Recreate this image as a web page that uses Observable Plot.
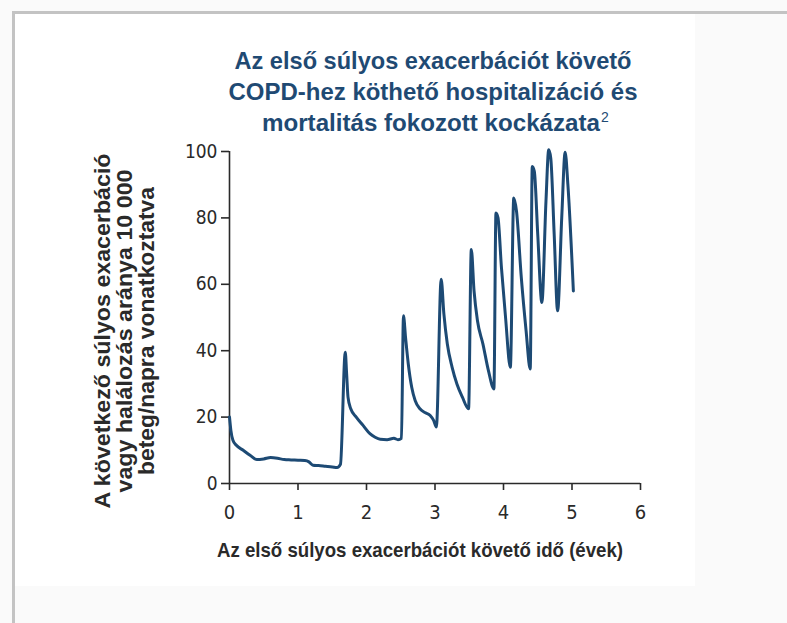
<!DOCTYPE html>
<html><head><meta charset="utf-8">
<script src="https://cdn.jsdelivr.net/npm/d3@7"></script>
<script src="https://cdn.jsdelivr.net/npm/@observablehq/plot@0.6"></script>
<style>
html,body{margin:0;padding:0;background:#fafafa;}
#wrap{position:relative;width:787px;height:623px;overflow:hidden;background:#fafafa;}
#frame{position:absolute;left:12px;top:11px;width:800px;height:700px;border-left:3px solid #c3c3c3;border-top:3px solid #c3c3c3;}
#panel{position:absolute;left:15px;top:14px;width:680px;height:572px;background:#fff;}
#chart{position:absolute;left:0;top:0;}
#labels{position:absolute;left:0;top:0;}
</style></head><body>
<div id="wrap"><div id="frame"></div><div id="panel"></div><div id="chart"></div><svg id="labels" width="787" height="623"></svg></div>
<script>
const years = [0.00,0.02,0.05,0.10,0.20,0.30,0.40,0.50,0.60,0.70,0.80,0.90,1.00,1.10,1.16,1.22,1.30,1.40,1.50,1.57,1.62,
  1.69,1.71,1.73,1.77,1.85,1.95,2.05,2.12,2.20,2.30,2.40,2.46,2.51,
  2.54,2.57,2.61,2.66,2.71,2.78,2.86,2.93,2.98,3.02,
  3.09,3.13,3.18,3.25,3.32,3.40,3.49,
  3.53,3.57,3.62,3.70,3.78,3.86,
  3.89,3.92,3.97,4.03,4.10,
  4.15,4.19,4.26,4.33,4.39,
  4.42,4.45,4.50,4.56,4.62,
  4.66,4.69,4.74,4.79,4.85,
  4.90,4.94,5.02];
const rates = [20,16,13,11.5,10,8.5,7.2,7.4,7.8,7.6,7.2,7.1,7.0,6.9,6.5,5.5,5.4,5.2,5.0,4.8,5.8,
  39.5,33,26,22.5,20,17.5,15,14,13.3,13.2,13.6,13.2,13.6,
  50.5,44,36,29,25,22.5,21.3,20.5,19,17,
  61.5,51,42,35,30,26,22.5,
  70.5,58,49,42,34,28.5,
  81.5,80,65,50,35,
  86,82,62,46,34.5,
  95.5,94,75,54.5,85,
  100.5,98,75,52,80,
  99.8,90,58];
const xTicks = [0,1,2,3,4,5,6];
const yTicks = [0,20,40,60,80,100];
const titleLines = ["Az első súlyos exacerbációt követő", "COPD-hez köthető hospitalizáció és", "mortalitás fokozott kockázata"];
const titleSup = "2";
const yLabelLines = ["A következő súlyos exacerbáció", "vagy halálozás aránya 10 000", "beteg/napra vonatkoztatva"];
const xLabel = "Az első súlyos exacerbációt követő idő (évek)";

const data = years.map((x, i) => ({x, y: rates[i]}));
const axisFont = "'Liberation Sans Narrow', 'DejaVu Sans Condensed', sans-serif";
const chart = Plot.plot({
  width: 787, height: 623,
  marginLeft: 229, marginRight: 147, marginTop: 151, marginBottom: 140,
  style: {background: "transparent", fontFamily: axisFont, fontSize: "19px", color: "#2a2a2a"},
  x: {domain: [0, 6]},
  y: {domain: [0, 100]},
  marks: [
    Plot.axisX({ticks: xTicks, tickSize: 7, tickPadding: 14, label: null, tickFormat: d => String(d), fontSize: 20, strokeWidth: 1.6}),
    Plot.axisY({ticks: yTicks, tickSize: 8, tickPadding: 4, label: null, tickFormat: d => String(d), fontSize: 19, strokeWidth: 1.6}),
    Plot.ruleX([0], {y1: 0, y2: 100, stroke: "#2a2a2a", strokeWidth: 1.6}),
    Plot.ruleY([0], {x1: 0, x2: 6, stroke: "#2a2a2a", strokeWidth: 1.6}),
    Plot.line(data, {x: "x", y: "y", stroke: "#1d4a74", strokeWidth: 3, curve: "monotone-x"})
  ]
});
document.getElementById("chart").appendChild(chart);

const svg = d3.select("#labels");
const tBase = [69, 100, 131];
const tLen = [397, 409, 338];
const tX = [433, 433, 431];
titleLines.forEach((t, i) => {
  const txt = svg.append("text").attr("x", tX[i]).attr("y", tBase[i]).attr("text-anchor", "middle")
    .attr("font-family", "'Liberation Sans', Arial, sans-serif").attr("font-weight", "bold")
    .attr("font-size", 24).attr("fill", "#1f4a73")
    .attr("textLength", tLen[i]).attr("lengthAdjust", "spacingAndGlyphs").text(t);
  if (i === 2) svg.append("text").attr("x", 601).attr("y", tBase[i] - 9).attr("font-family", "'Liberation Sans', Arial, sans-serif")
    .attr("font-size", 14).attr("fill", "#1f4a73").text(titleSup);
});
const yx = [110, 132, 154];
const yLen = [355, 323, 288];
yLabelLines.forEach((t, i) => {
  svg.append("text").attr("transform", `translate(${yx[i]},331) rotate(-90)`).attr("text-anchor", "middle")
    .attr("font-family", "'Liberation Sans', Arial, sans-serif").attr("font-weight", "bold")
    .attr("font-size", 22).attr("fill", "#2a2a2a")
    .attr("textLength", yLen[i]).attr("lengthAdjust", "spacingAndGlyphs").text(t);
});
svg.append("text").attr("x", 420).attr("y", 557).attr("text-anchor", "middle")
  .attr("font-family", "'Liberation Sans', Arial, sans-serif").attr("font-weight", "bold")
  .attr("font-size", 21).attr("fill", "#2a2a2a")
  .attr("textLength", 406).attr("lengthAdjust", "spacingAndGlyphs").text(xLabel);
</script>
</body></html>
